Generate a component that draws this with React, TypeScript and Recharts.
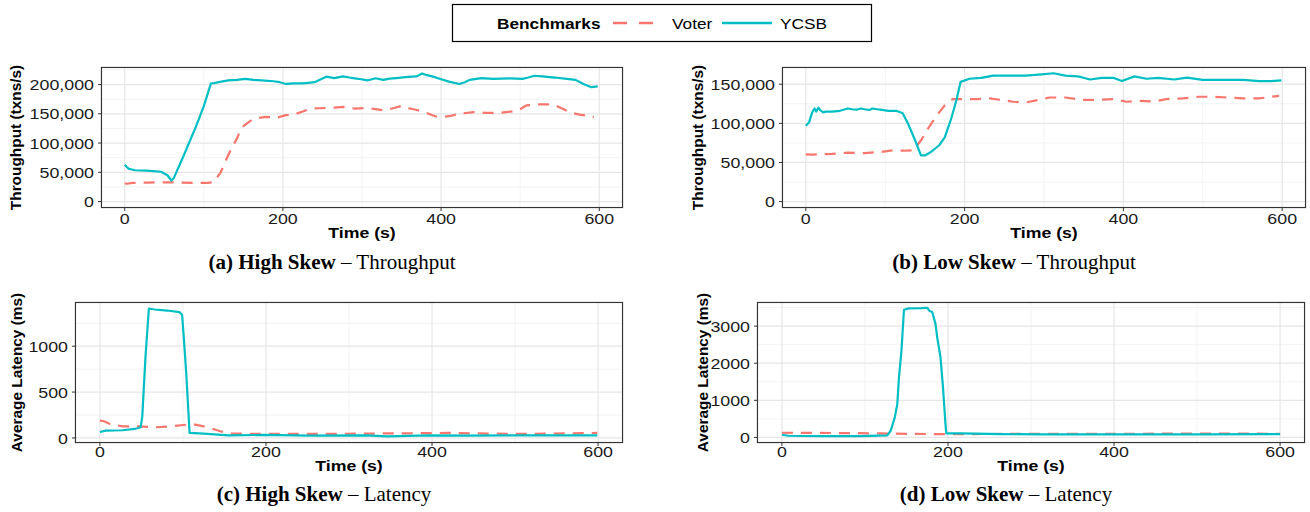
import React from "react";
import { LineChart, Line, XAxis, YAxis, CartesianGrid } from "recharts";

const VOTER_COLOR = "#F8766D";
const YCSB_COLOR = "#00BFC4";
const SANS = "'Liberation Sans', Arial, Helvetica, sans-serif";
const SERIF = "'Liberation Serif', 'Times New Roman', serif";
// the sans text in the figure is stretched sideways a little
const STRETCH = 1.15;

// (a) high skew, throughput (txns/s)
const aYcsbTime = [0, 2, 5, 13, 28, 46, 54, 59, 62, 75, 90, 100, 109, 113, 122, 131, 142, 152, 163, 173, 188, 196, 204, 214, 224, 232, 240, 248, 255, 265, 276, 284, 291, 299, 307, 317, 327, 335, 343, 358, 369, 376, 382, 389, 399, 410, 423, 430, 436, 451, 466, 476, 487, 503, 510, 518, 528, 544, 559, 570, 580, 590, 598];
const aYcsbTput = [63000, 60000, 56000, 53500, 53000, 51000, 45000, 36000, 40000, 80000, 128000, 163000, 202000, 202500, 205000, 207000, 208000, 209600, 208000, 207000, 205600, 204000, 201000, 202000, 202000, 203000, 204000, 209000, 213500, 211000, 214000, 212000, 210700, 209000, 207000, 210700, 208000, 210000, 211000, 213000, 214000, 219000, 216000, 214000, 209600, 205000, 201000, 204000, 208000, 211000, 209600, 210000, 210700, 209600, 212000, 215000, 214000, 212000, 209600, 208000, 201000, 195500, 197000];
const aVoterTime = [0, 3, 10, 30, 50, 70, 90, 105, 112, 121, 131, 142, 147, 152, 162, 170, 178, 193, 204, 214, 225, 235, 245, 255, 265, 276, 291, 307, 317, 327, 338, 350, 358, 368, 379, 390, 397, 410, 425, 441, 456, 477, 492, 500, 508, 523, 541, 549, 564, 575, 583, 590, 593];
const aVoterTput = [31000, 30500, 32000, 32500, 33000, 32500, 32000, 32000, 33000, 49000, 80000, 108000, 125000, 131000, 141000, 143000, 144800, 143700, 147600, 148700, 154000, 159000, 159500, 160000, 160500, 161700, 159000, 160000, 158000, 156000, 159000, 163400, 160000, 157000, 153000, 147000, 144000, 145900, 150400, 153000, 151500, 152000, 154400, 158000, 164500, 166000, 166000, 161700, 152000, 148700, 147000, 146500, 144200];

// (b) low skew, throughput (txns/s)
const bYcsbTime = [0, 4, 8, 11, 13, 16, 18, 22, 25, 33, 43, 53, 58, 64, 70, 74, 80, 84, 90, 94, 104, 114, 122, 129, 137, 145, 150, 157, 168, 175, 183, 190, 195, 206, 221, 236, 256, 277, 297, 312, 327, 343, 358, 373, 388, 398, 414, 429, 444, 464, 480, 500, 525, 551, 571, 586, 599];
const bYcsbTput = [97000, 101000, 114000, 119000, 115000, 120000, 117000, 114000, 115000, 115000, 116000, 119000, 118000, 117500, 119000, 118000, 117000, 119000, 118000, 117500, 116000, 116000, 113000, 99000, 80000, 59000, 59000, 63000, 72000, 82000, 105600, 131000, 153000, 157000, 158000, 161000, 161000, 161000, 162600, 164000, 161000, 160000, 156000, 158000, 158000, 154000, 160000, 157000, 158000, 156000, 158400, 155500, 155500, 155500, 154000, 154000, 155000];
const bVoterTime = [0, 8, 33, 53, 74, 94, 109, 124, 135, 145, 155, 165, 175, 185, 195, 216, 231, 246, 261, 277, 292, 307, 327, 348, 368, 388, 404, 419, 439, 454, 475, 495, 515, 530, 551, 571, 586, 596];
const bVoterTput = [60400, 60000, 61000, 62500, 62000, 63400, 65500, 65000, 65500, 78000, 95000, 110000, 123000, 131000, 131000, 131000, 131800, 130000, 127600, 126700, 129700, 133000, 133000, 130000, 130000, 131000, 127600, 128800, 128000, 131000, 131800, 134000, 134000, 133000, 131800, 131800, 134000, 135000];

// (c) high skew, latency (ms)
const cYcsbTime = [0, 7, 27, 42, 49, 51, 55, 59, 66, 81, 96, 99, 101, 104, 108, 125, 155, 199, 253, 321, 346, 395, 444, 518, 599];
const cYcsbLat = [65, 80, 84, 98, 116, 230, 900, 1411, 1400, 1389, 1371, 1340, 1100, 700, 55, 47, 29, 33, 25, 29, 18, 29, 25, 29, 29];
const cVoterTime = [0, 5, 12, 27, 47, 66, 86, 105, 115, 130, 145, 159, 199, 272, 370, 420, 469, 518, 599];
const cVoterLat = [189, 182, 153, 127, 127, 116, 127, 145, 145, 116, 73, 47, 44, 44, 51, 55, 47, 44, 55];

// (d) low skew, latency (ms)
const dYcsbTime = [0, 8, 47, 95, 127, 131, 136, 139, 141, 144, 147, 153, 168, 175, 178, 181, 185, 187, 191, 194, 197, 198, 216, 264, 312, 409, 506, 600];
const dYcsbLat = [72, 45, 36, 36, 54, 180, 540, 900, 1620, 2340, 3440, 3477, 3486, 3495, 3405, 3380, 3060, 2700, 2160, 1350, 360, 108, 108, 90, 81, 81, 81, 90];
const dVoterTime = [0, 60, 119, 150, 197, 300, 429, 500, 600];
const dVoterLat = [126, 120, 108, 95, 90, 95, 99, 105, 99];

const timeTicks = [0, 200, 400, 600];
const timeMinor = [100, 300, 500];
const hiTputTicks = [0, 50000, 100000, 150000, 200000];
const hiTputMinor = [25000, 75000, 125000, 175000, 225000];
const loTputTicks = [0, 50000, 100000, 150000];
const loTputMinor = [25000, 75000, 125000];
const hiLatTicks = [0, 500, 1000];
const hiLatMinor = [250, 750, 1250];
const loLatTicks = [0, 1000, 2000, 3000];
const loLatMinor = [500, 1500, 2500, 3500];

const zip = (t: number[], v: number[]) => t.map((x, i) => ({ t: x, v: v[i] }));

const panels = [
  { id: "a", x: 101, y: 67, w: 522, h: 141, yDomain: [-11000, 230000], yTicks: hiTputTicks, yMinor: hiTputMinor, comma: true,
    yTitle: "Throughput (txns/s)", yTitleX: 21, xTickOff: 11, timeY: 238, capBold: "(a) High Skew", capRest: "Throughput", capX: 332, capY: 269,
    voter: zip(aVoterTime, aVoterTput), ycsb: zip(aYcsbTime, aYcsbTput) },
  { id: "b", x: 782, y: 67, w: 524, h: 141, yDomain: [-8200, 172000], yTicks: loTputTicks, yMinor: loTputMinor, comma: true,
    yTitle: "Throughput (txns/s)", yTitleX: 703, xTickOff: 11, timeY: 238, capBold: "(b) Low Skew", capRest: "Throughput", capX: 1014, capY: 269,
    voter: zip(bVoterTime, bVoterTput), ycsb: zip(bYcsbTime, bYcsbTput) },
  { id: "c", x: 75, y: 302, w: 548, h: 141, yDomain: [-55, 1482], yTicks: hiLatTicks, yMinor: hiLatMinor, comma: false,
    yTitle: "Average Latency (ms)", yTitleX: 22, xTickOff: 9, timeY: 471, capBold: "(c) High Skew", capRest: "Latency", capX: 324, capY: 501,
    voter: zip(cVoterTime, cVoterLat), ycsb: zip(cYcsbTime, cYcsbLat) },
  { id: "d", x: 757, y: 302, w: 548, h: 141, yDomain: [-150, 3650], yTicks: loLatTicks, yMinor: loLatMinor, comma: false,
    yTitle: "Average Latency (ms)", yTitleX: 708, xTickOff: 9, timeY: 471, capBold: "(d) Low Skew", capRest: "Latency", capX: 1006, capY: 501,
    voter: zip(dVoterTime, dVoterLat), ycsb: zip(dYcsbTime, dYcsbLat) },
];

const XTick = ({ x, y, payload, off }: any) => (
  <text transform={`translate(${x},${y + off}) scale(${STRETCH},1)`} textAnchor="middle" fontFamily={SANS} fontSize={15.5} fill="#1a1a1a">
    {payload.value}
  </text>
);

const YTick = ({ x, y, payload, comma }: any) => (
  <text transform={`translate(${x},${y}) scale(${STRETCH},1)`} textAnchor="end" dy="0.36em" fontFamily={SANS} fontSize={15.5} fill="#1a1a1a">
    {comma ? Number(payload.value).toLocaleString("en-US") : payload.value}
  </text>
);

const AX = 80;
const PAD = 6;
const XH = 30;

const Panel = ({ p }: { p: any }) => (
  <div style={{ position: "absolute", left: p.x - AX, top: p.y - PAD }}>
    <LineChart width={AX + p.w + PAD} height={PAD + p.h + XH} margin={{ top: PAD, right: PAD, bottom: 0, left: 0 }}>
      <CartesianGrid stroke="#f3f3f3" strokeWidth={1} horizontalValues={p.yMinor} verticalValues={timeMinor} />
      <CartesianGrid stroke="#e6e6e6" strokeWidth={1.2} />
      <XAxis type="number" dataKey="t" domain={[-30, 630]} ticks={timeTicks} allowDataOverflow height={XH}
        axisLine={false} tickSize={3} tickMargin={2} tickLine={{ stroke: "#333" }}
        tick={(t: any) => <XTick {...t} off={p.xTickOff} />} />
      <YAxis type="number" domain={p.yDomain} ticks={p.yTicks} allowDataOverflow width={AX}
        axisLine={false} tickSize={3} tickMargin={4} tickLine={{ stroke: "#333" }}
        tick={(t: any) => <YTick {...t} comma={p.comma} />} />
      <Line data={p.voter} dataKey="v" type="linear" stroke={VOTER_COLOR} strokeWidth={2.2} strokeDasharray="11 8"
        dot={false} activeDot={false} isAnimationActive={false} />
      <Line data={p.ycsb} dataKey="v" type="linear" stroke={YCSB_COLOR} strokeWidth={2.2} strokeLinejoin="round"
        dot={false} activeDot={false} isAnimationActive={false} />
    </LineChart>
  </div>
);

export default function App() {
  return (
    <div style={{ position: "absolute", left: 0, top: 0, width: 1310, height: 512, background: "#fff" }}>
      {panels.map((p) => <Panel key={p.id} p={p} />)}
      <svg width={1310} height={512} style={{ position: "absolute", left: 0, top: 0, pointerEvents: "none" }}>
        {panels.map((p) => (
          <g key={p.id}>
            <rect x={p.x + 0.5} y={p.y + 0.5} width={p.w - 1} height={p.h - 1} fill="none" stroke="#333" strokeWidth={1.1} />
            <text transform={`translate(${p.x + p.w / 2},${p.timeY}) scale(${STRETCH},1)`} textAnchor="middle"
              fontFamily={SANS} fontWeight="bold" fontSize={15.4} fill="#000">Time (s)</text>
            <text transform={`translate(${p.yTitleX},${p.y + p.h / 2}) rotate(-90)`} textAnchor="middle"
              fontFamily={SANS} fontWeight="bold" fontSize={15.4} fill="#000">{p.yTitle}</text>
            <text x={p.capX} y={p.capY} textAnchor="middle" fontFamily={SERIF} fontSize={21} fill="#000" style={{ whiteSpace: "pre" }}>
              <tspan fontWeight="bold">{p.capBold}</tspan>
              <tspan>{" \u2013 " + p.capRest}</tspan>
            </text>
          </g>
        ))}
        <rect x={452.5} y={4.5} width={419} height={37} fill="#fff" stroke="#000" strokeWidth={1.2} />
        <text transform={`translate(497,28.5) scale(${STRETCH},1)`} fontFamily={SANS} fontWeight="bold" fontSize={15} fill="#000">Benchmarks</text>
        <line x1={613} y1={23} x2={653} y2={23} stroke={VOTER_COLOR} strokeWidth={2.4} strokeDasharray="14 12" />
        <text transform={`translate(672,28.5) scale(${STRETCH},1)`} fontFamily={SANS} fontSize={15} fill="#000">Voter</text>
        <line x1={722} y1={23} x2={772} y2={23} stroke={YCSB_COLOR} strokeWidth={2.4} />
        <text transform={`translate(780,28.5) scale(${STRETCH},1)`} fontFamily={SANS} fontSize={15} fill="#000">YCSB</text>
      </svg>
    </div>
  );
}
